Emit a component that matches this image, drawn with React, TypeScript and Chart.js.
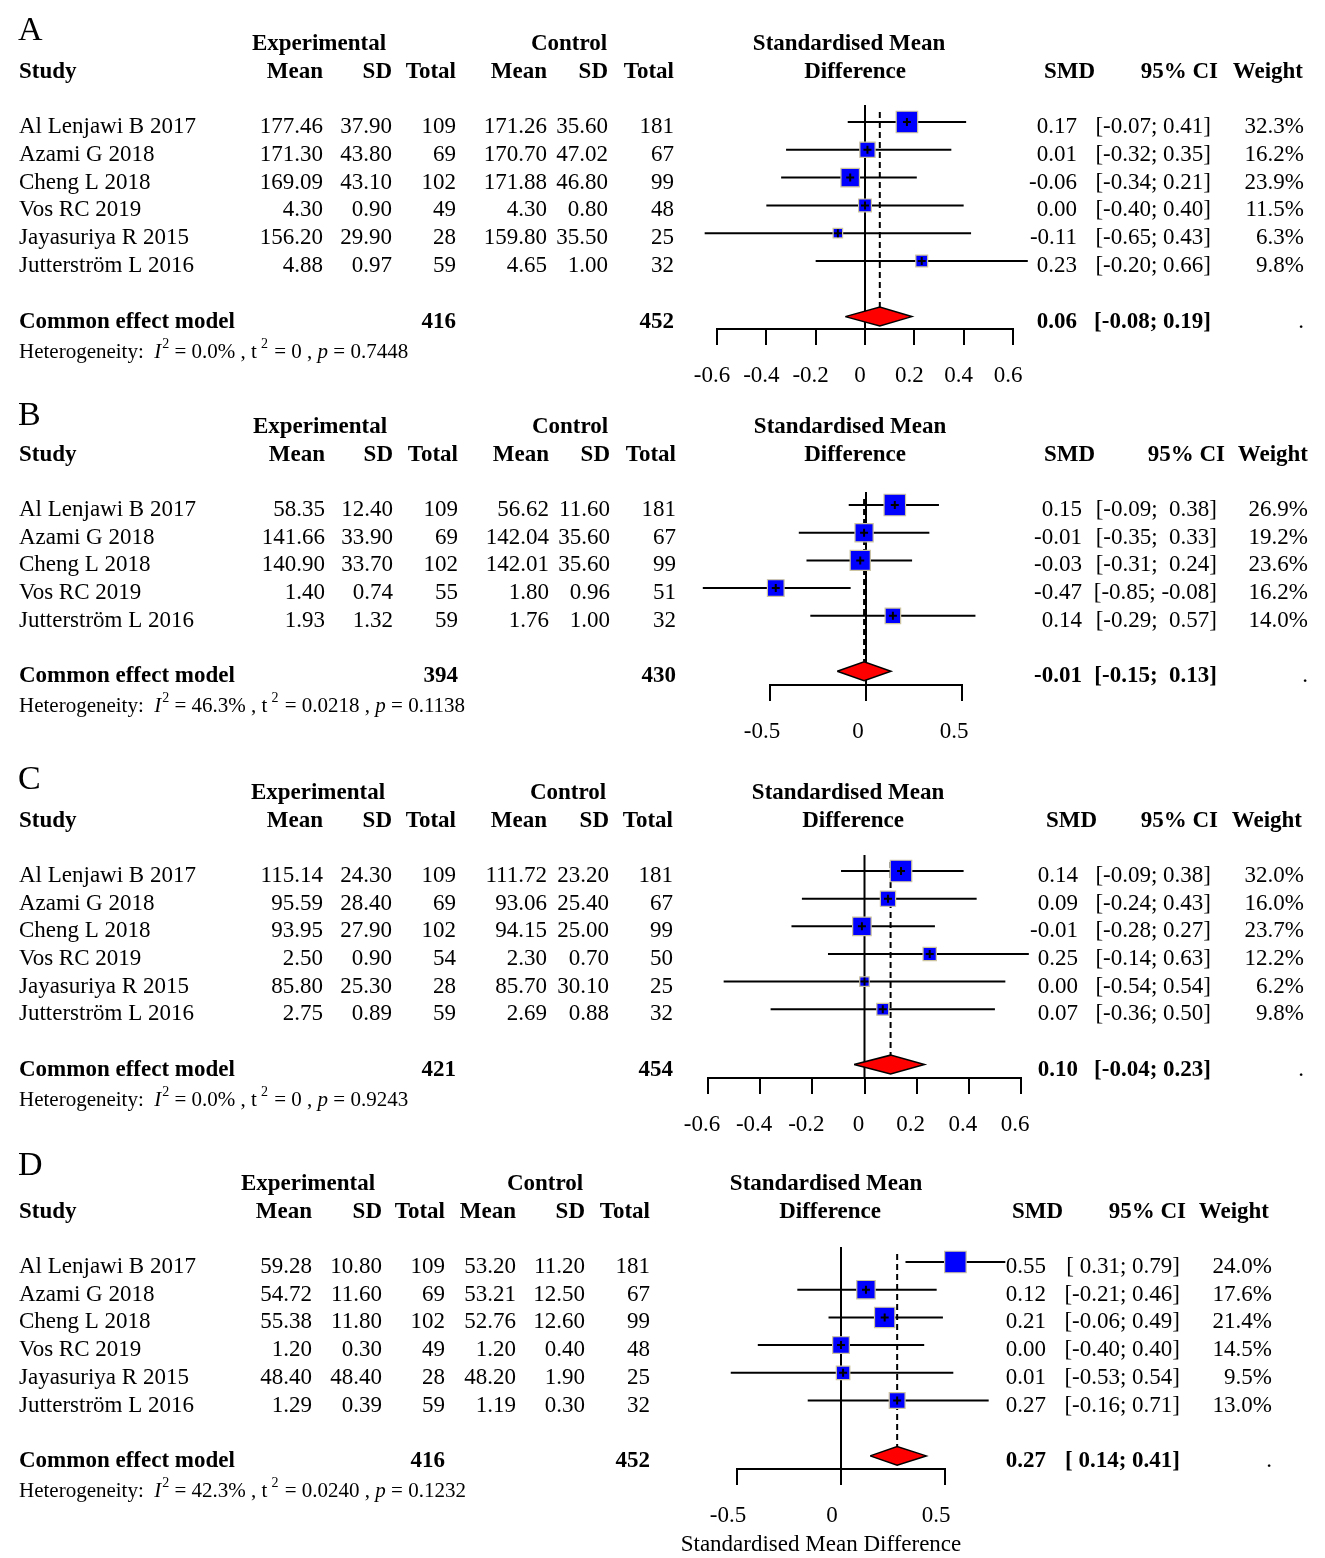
import React, { useEffect, useRef } from "react";
import { Chart, registerables } from "chart.js";

Chart.register(...registerables);

// ================= DATA =================
// ----- Panel A -----
const A_STUDIES = ["Al Lenjawi B 2017", "Azami G 2018", "Cheng L 2018", "Vos RC 2019", "Jayasuriya R 2015", "Jutterström L 2016"];
const A_EXP_MEAN = [177.46, 171.3, 169.09, 4.3, 156.2, 4.88];
const A_EXP_SD = [37.9, 43.8, 43.1, 0.9, 29.9, 0.97];
const A_EXP_N = [109, 69, 102, 49, 28, 59];
const A_CTL_MEAN = [171.26, 170.7, 171.88, 4.3, 159.8, 4.65];
const A_CTL_SD = [35.6, 47.02, 46.8, 0.8, 35.5, 1.0];
const A_CTL_N = [181, 67, 99, 48, 25, 32];
const A_SMD = [0.17, 0.01, -0.06, 0.0, -0.11, 0.23];
const A_LOWER = [-0.07, -0.32, -0.34, -0.4, -0.65, -0.2];
const A_UPPER = [0.41, 0.35, 0.21, 0.4, 0.43, 0.66];
const A_WEIGHT = [32.3, 16.2, 23.9, 11.5, 6.3, 9.8];
const A_POOLED = [0.06, -0.08, 0.19];
const A_TOTALS = [416, 452];
const A_HET = ["0.0%", "0", "0.7448"];
const A_TICKS = [-0.6, -0.4, -0.2, 0, 0.2, 0.4, 0.6];

// ----- Panel B -----
const B_STUDIES = ["Al Lenjawi B 2017", "Azami G 2018", "Cheng L 2018", "Vos RC 2019", "Jutterström L 2016"];
const B_EXP_MEAN = [58.35, 141.66, 140.9, 1.4, 1.93];
const B_EXP_SD = [12.4, 33.9, 33.7, 0.74, 1.32];
const B_EXP_N = [109, 69, 102, 55, 59];
const B_CTL_MEAN = [56.62, 142.04, 142.01, 1.8, 1.76];
const B_CTL_SD = [11.6, 35.6, 35.6, 0.96, 1.0];
const B_CTL_N = [181, 67, 99, 51, 32];
const B_SMD = [0.15, -0.01, -0.03, -0.47, 0.14];
const B_LOWER = [-0.09, -0.35, -0.31, -0.85, -0.29];
const B_UPPER = [0.38, 0.33, 0.24, -0.08, 0.57];
const B_WEIGHT = [26.9, 19.2, 23.6, 16.2, 14.0];
const B_POOLED = [-0.01, -0.15, 0.13];
const B_TOTALS = [394, 430];
const B_HET = ["46.3%", "0.0218", "0.1138"];
const B_TICKS = [-0.5, 0, 0.5];

// ----- Panel C -----
const C_STUDIES = ["Al Lenjawi B 2017", "Azami G 2018", "Cheng L 2018", "Vos RC 2019", "Jayasuriya R 2015", "Jutterström L 2016"];
const C_EXP_MEAN = [115.14, 95.59, 93.95, 2.5, 85.8, 2.75];
const C_EXP_SD = [24.3, 28.4, 27.9, 0.9, 25.3, 0.89];
const C_EXP_N = [109, 69, 102, 54, 28, 59];
const C_CTL_MEAN = [111.72, 93.06, 94.15, 2.3, 85.7, 2.69];
const C_CTL_SD = [23.2, 25.4, 25.0, 0.7, 30.1, 0.88];
const C_CTL_N = [181, 67, 99, 50, 25, 32];
const C_SMD = [0.14, 0.09, -0.01, 0.25, 0.0, 0.07];
const C_LOWER = [-0.09, -0.24, -0.28, -0.14, -0.54, -0.36];
const C_UPPER = [0.38, 0.43, 0.27, 0.63, 0.54, 0.5];
const C_WEIGHT = [32.0, 16.0, 23.7, 12.2, 6.2, 9.8];
const C_POOLED = [0.1, -0.04, 0.23];
const C_TOTALS = [421, 454];
const C_HET = ["0.0%", "0", "0.9243"];
const C_TICKS = [-0.6, -0.4, -0.2, 0, 0.2, 0.4, 0.6];

// ----- Panel D -----
const D_STUDIES = ["Al Lenjawi B 2017", "Azami G 2018", "Cheng L 2018", "Vos RC 2019", "Jayasuriya R 2015", "Jutterström L 2016"];
const D_EXP_MEAN = [59.28, 54.72, 55.38, 1.2, 48.4, 1.29];
const D_EXP_SD = [10.8, 11.6, 11.8, 0.3, 48.4, 0.39];
const D_EXP_N = [109, 69, 102, 49, 28, 59];
const D_CTL_MEAN = [53.2, 53.21, 52.76, 1.2, 48.2, 1.19];
const D_CTL_SD = [11.2, 12.5, 12.6, 0.4, 1.9, 0.3];
const D_CTL_N = [181, 67, 99, 48, 25, 32];
const D_SMD = [0.55, 0.12, 0.21, 0.0, 0.01, 0.27];
const D_LOWER = [0.31, -0.21, -0.06, -0.4, -0.53, -0.16];
const D_UPPER = [0.79, 0.46, 0.49, 0.4, 0.54, 0.71];
const D_WEIGHT = [24.0, 17.6, 21.4, 14.5, 9.5, 13.0];
const D_POOLED = [0.27, 0.14, 0.41];
const D_TOTALS = [416, 452];
const D_HET = ["42.3%", "0.0240", "0.1232"];
const D_TICKS = [-0.5, 0, 0.5];
const D_XTITLE = "Standardised Mean Difference";

// ================= TYPES / LAYOUT =================
type PanelData = {
  letter: string;
  studies: string[];
  expMean: number[]; expSd: number[]; expN: number[];
  ctlMean: number[]; ctlSd: number[]; ctlN: number[];
  smd: number[]; lower: number[]; upper: number[]; weight: number[];
  pooled: number[]; totals: number[]; het: string[]; ticks: number[];
  xTitle?: string;
};

type Layout = {
  bandTop: number; bandH: number;
  xLeft: number; xRight: number; plotTop: number; axisY: number;
  row1: number; rowStep: number; labelOffset: number; letterY: number;
  studyX: number; expMean: number; expSd: number; expN: number;
  ctlMean: number; ctlSd: number; ctlN: number;
  expHdr: number; ctlHdr: number; smdHdr1: number; smdHdr2: number;
  smd: number; smdHdr: number; ci: number; ciHdr: number; w: number; wHdr: number;
  xTitleX?: number; xTitleY?: number;
};

const PAGE_W = 1325;
const PAGE_H = 1558;
const SERIF = '"Liberation Serif", "Times New Roman", serif';
const REG = `23px ${SERIF}`;
const BOLD = `bold 23px ${SERIF}`;
const TXT_DY = 11;
const HET_DY = 41;
const MAX_SIDE = 21.5;
const DIAMOND_HALF = 0.34;

const PANELS: { d: PanelData; L: Layout }[] = [
  {
    d: {
      letter: "A", studies: A_STUDIES, expMean: A_EXP_MEAN, expSd: A_EXP_SD, expN: A_EXP_N,
      ctlMean: A_CTL_MEAN, ctlSd: A_CTL_SD, ctlN: A_CTL_N, smd: A_SMD, lower: A_LOWER, upper: A_UPPER,
      weight: A_WEIGHT, pooled: A_POOLED, totals: A_TOTALS, het: A_HET, ticks: A_TICKS,
    },
    L: {
      bandTop: 0, bandH: 392, xLeft: 717, xRight: 1013, plotTop: 105, axisY: 329, row1: 122, rowStep: 27.8,
      labelOffset: -5, letterY: 40, studyX: 19, expMean: 323, expSd: 392, expN: 456, ctlMean: 547, ctlSd: 608, ctlN: 674,
      expHdr: 319, ctlHdr: 569, smdHdr1: 849, smdHdr2: 855, smd: 1077, smdHdr: 1095, ci: 1211, ciHdr: 1218, w: 1304, wHdr: 1303,
    },
  },
  {
    d: {
      letter: "B", studies: B_STUDIES, expMean: B_EXP_MEAN, expSd: B_EXP_SD, expN: B_EXP_N,
      ctlMean: B_CTL_MEAN, ctlSd: B_CTL_SD, ctlN: B_CTL_N, smd: B_SMD, lower: B_LOWER, upper: B_UPPER,
      weight: B_WEIGHT, pooled: B_POOLED, totals: B_TOTALS, het: B_HET, ticks: B_TICKS,
    },
    L: {
      bandTop: 392, bandH: 366, xLeft: 770, xRight: 962, plotTop: 492, axisY: 685, row1: 505, rowStep: 27.7,
      labelOffset: -8, letterY: 425, studyX: 19, expMean: 325, expSd: 393, expN: 458, ctlMean: 549, ctlSd: 610, ctlN: 676,
      expHdr: 320, ctlHdr: 570, smdHdr1: 850, smdHdr2: 855, smd: 1082, smdHdr: 1095, ci: 1217, ciHdr: 1225, w: 1308, wHdr: 1308,
    },
  },
  {
    d: {
      letter: "C", studies: C_STUDIES, expMean: C_EXP_MEAN, expSd: C_EXP_SD, expN: C_EXP_N,
      ctlMean: C_CTL_MEAN, ctlSd: C_CTL_SD, ctlN: C_CTL_N, smd: C_SMD, lower: C_LOWER, upper: C_UPPER,
      weight: C_WEIGHT, pooled: C_POOLED, totals: C_TOTALS, het: C_HET, ticks: C_TICKS,
    },
    L: {
      bandTop: 758, bandH: 390, xLeft: 708, xRight: 1021, plotTop: 855, axisY: 1078, row1: 871, rowStep: 27.65,
      labelOffset: -6, letterY: 789, studyX: 19, expMean: 323, expSd: 392, expN: 456, ctlMean: 547, ctlSd: 609, ctlN: 673,
      expHdr: 318, ctlHdr: 568, smdHdr1: 848, smdHdr2: 853, smd: 1078, smdHdr: 1097, ci: 1211, ciHdr: 1218, w: 1304, wHdr: 1302,
    },
  },
  {
    d: {
      letter: "D", studies: D_STUDIES, expMean: D_EXP_MEAN, expSd: D_EXP_SD, expN: D_EXP_N,
      ctlMean: D_CTL_MEAN, ctlSd: D_CTL_SD, ctlN: D_CTL_N, smd: D_SMD, lower: D_LOWER, upper: D_UPPER,
      weight: D_WEIGHT, pooled: D_POOLED, totals: D_TOTALS, het: D_HET, ticks: D_TICKS, xTitle: D_XTITLE,
    },
    L: {
      bandTop: 1148, bandH: 410, xLeft: 737, xRight: 945, plotTop: 1247, axisY: 1469, row1: 1262, rowStep: 27.7,
      labelOffset: -9, letterY: 1175, studyX: 19, expMean: 312, expSd: 382, expN: 445, ctlMean: 516, ctlSd: 585, ctlN: 650,
      expHdr: 308, ctlHdr: 545, smdHdr1: 826, smdHdr2: 830, smd: 1046, smdHdr: 1063, ci: 1180, ciHdr: 1186, w: 1272, wHdr: 1269,
      xTitleX: 821, xTitleY: 1551,
    },
  },
];

// ================= HELPERS =================
const f2 = (v: number) => (Math.abs(v) < 1e-12 ? 0 : v).toFixed(2);

function ciStrings(d: PanelData): string[] {
  const lo = [...d.lower, d.pooled[1]].map(f2);
  const hi = [...d.upper, d.pooled[2]].map(f2);
  const lw = Math.max(...lo.map((s) => s.length));
  const hw = Math.max(...hi.map((s) => s.length));
  return lo.map((l, i) => `[${l.padStart(lw, " ")}; ${hi[i].padStart(hw, " ")}]`);
}

function yRange(L: Layout) {
  const yMin = 1 - (L.row1 - L.plotTop) / L.rowStep;
  const yMax = 1 + (L.axisY - L.row1) / L.rowStep;
  return { yMin, yMax };
}

function drawHet(ctx: CanvasRenderingContext2D, het: string[], x0: number, y: number) {
  const R = `21px ${SERIF}`;
  const IT = `italic 21px ${SERIF}`;
  const SUP = `14px ${SERIF}`;
  const parts: [string, string, number, number][] = [
    ["Heterogeneity:  ", R, 0, 0],
    ["I", IT, 0, 0],
    ["2", SUP, -10, 1],
    [" = " + het[0], R, 0, 0],
    [" , ", R, 0, 0],
    ["t", R, 0, 0],
    ["2", SUP, -10, 4],
    [" = " + het[1], R, 0, 1],
    [" , ", R, 0, 0],
    ["p", IT, 0, 0],
    [" = " + het[2], R, 0, 0],
  ];
  let x = x0;
  ctx.textAlign = "left";
  ctx.textBaseline = "alphabetic";
  for (const [t, f, dy, gap] of parts) {
    x += gap;
    ctx.font = f;
    ctx.fillText(t, x, y + dy);
    x += ctx.measureText(t).width;
  }
}

function makeTextPlugin(d: PanelData, L: Layout) {
  return {
    id: "forestText" + d.letter,
    afterDraw(chart: any) {
      const ctx: CanvasRenderingContext2D = chart.ctx;
      const ys = chart.scales.y;
      const rowY = (r: number) => ys.getPixelForValue(r);
      const put = (t: string, x: number, y: number, align: CanvasTextAlign, font: string) => {
        ctx.font = font;
        ctx.textAlign = align;
        ctx.textBaseline = "alphabetic";
        ctx.fillText(t, x, y);
      };
      ctx.save();
      ctx.fillStyle = "#000";
      put(d.letter, L.studyX - 1, L.letterY - L.bandTop, "left", `34px ${SERIF}`);

      const h1 = rowY(1) - 72;
      const h2 = rowY(1) - 44;
      put("Experimental", L.expHdr, h1, "center", BOLD);
      put("Control", L.ctlHdr, h1, "center", BOLD);
      put("Standardised Mean", L.smdHdr1, h1, "center", BOLD);
      put("Study", L.studyX, h2, "left", BOLD);
      put("Mean", L.expMean, h2, "right", BOLD);
      put("SD", L.expSd, h2, "right", BOLD);
      put("Total", L.expN, h2, "right", BOLD);
      put("Mean", L.ctlMean, h2, "right", BOLD);
      put("SD", L.ctlSd, h2, "right", BOLD);
      put("Total", L.ctlN, h2, "right", BOLD);
      put("Difference", L.smdHdr2, h2, "center", BOLD);
      put("SMD", L.smdHdr, h2, "right", BOLD);
      put("95% CI", L.ciHdr, h2, "right", BOLD);
      put("Weight", L.wHdr, h2, "right", BOLD);

      const cis = ciStrings(d);
      d.studies.forEach((s, i) => {
        const y = rowY(i + 1) + TXT_DY;
        put(s, L.studyX, y, "left", REG);
        put(d.expMean[i].toFixed(2), L.expMean, y, "right", REG);
        put(d.expSd[i].toFixed(2), L.expSd, y, "right", REG);
        put(String(d.expN[i]), L.expN, y, "right", REG);
        put(d.ctlMean[i].toFixed(2), L.ctlMean, y, "right", REG);
        put(d.ctlSd[i].toFixed(2), L.ctlSd, y, "right", REG);
        put(String(d.ctlN[i]), L.ctlN, y, "right", REG);
        put(f2(d.smd[i]), L.smd, y, "right", REG);
        put(cis[i], L.ci, y, "right", REG);
        put(d.weight[i].toFixed(1) + "%", L.w, y, "right", REG);
      });

      const S = d.studies.length + 2;
      const yS = rowY(S) + TXT_DY;
      put("Common effect model", L.studyX, yS, "left", BOLD);
      put(String(d.totals[0]), L.expN, yS, "right", BOLD);
      put(String(d.totals[1]), L.ctlN, yS, "right", BOLD);
      put(f2(d.pooled[0]), L.smd, yS, "right", BOLD);
      put(cis[cis.length - 1], L.ci, yS, "right", BOLD);
      put(".", L.w, yS, "right", REG);

      drawHet(ctx, d.het, L.studyX, rowY(S) + HET_DY);

      if (d.xTitle && L.xTitleX !== undefined && L.xTitleY !== undefined) {
        put(d.xTitle, L.xTitleX, L.xTitleY - L.bandTop, "center", REG);
      }
      ctx.restore();
    },
  };
}

function buildDatasets(d: PanelData, L: Layout) {
  const { yMin, yMax } = yRange(L);
  const rows = d.studies.map((_, i) => i + 1);
  const S = d.studies.length + 2;
  const maxW = Math.max(...d.weight);
  const ds: any[] = [];
  ds.push({
    label: "no effect",
    data: [{ x: 0, y: yMin }, { x: 0, y: yMax }],
    borderColor: "#000", borderWidth: 2, pointRadius: 0, order: 10, clip: false,
  });
  ds.push({
    label: "pooled estimate",
    data: [{ x: d.pooled[0], y: yMin + 0.25 }, { x: d.pooled[0], y: S - DIAMOND_HALF }],
    borderColor: "#000", borderWidth: 2, borderDash: [6, 4], pointRadius: 0, order: 9, clip: false,
  });
  rows.forEach((r, i) => {
    ds.push({
      label: "CI " + d.studies[i],
      data: [{ x: d.lower[i], y: r }, { x: d.upper[i], y: r }],
      borderColor: "#000", borderWidth: 2, pointRadius: 0, order: 8, clip: false,
    });
  });
  const pts = rows.map((r, i) => ({ x: d.smd[i], y: r }));
  ds.push({
    label: "SMD",
    data: pts,
    showLine: false,
    pointStyle: "rect",
    pointRadius: d.weight.map((w) => (MAX_SIDE * Math.sqrt(w / maxW)) / Math.SQRT2),
    pointBackgroundColor: "#0000ff",
    pointBorderColor: "#cdc59f",
    pointBorderWidth: 1.2,
    order: 7, clip: false,
  });
  ds.push({
    label: "estimate mark",
    data: pts,
    showLine: false,
    pointStyle: "cross",
    pointRadius: 4,
    pointBorderColor: "#000",
    pointBorderWidth: 2,
    order: 6, clip: false,
  });
  ds.push({
    label: "Common effect model",
    data: [
      { x: d.pooled[1], y: S },
      { x: d.pooled[0], y: S - DIAMOND_HALF },
      { x: d.pooled[2], y: S },
      { x: d.pooled[0], y: S + DIAMOND_HALF },
      { x: d.pooled[1], y: S },
    ],
    fill: "shape",
    backgroundColor: "#ff0000",
    borderColor: "#000",
    borderWidth: 1.5,
    pointRadius: 0,
    tension: 0,
    order: 5, clip: false,
  });
  return ds;
}

function ForestPanel({ d, L }: { d: PanelData; L: Layout }) {
  const ref = useRef<HTMLCanvasElement | null>(null);
  useEffect(() => {
    if (!ref.current) return;
    const { yMin, yMax } = yRange(L);
    const chart = new Chart(ref.current, {
      type: "line",
      data: { datasets: buildDatasets(d, L) },
      options: {
        animation: false,
        responsive: false,
        events: [],
        layout: {
          padding: { left: L.xLeft, right: PAGE_W - L.xRight, top: L.plotTop - L.bandTop, bottom: 0 },
        },
        plugins: { legend: { display: false }, tooltip: { enabled: false }, title: { display: false } },
        scales: {
          x: {
            type: "linear",
            position: "bottom",
            min: d.ticks[0],
            max: d.ticks[d.ticks.length - 1],
            afterBuildTicks: (s: any) => {
              s.ticks = d.ticks.map((v) => ({ value: v }));
            },
            afterFit: (s: any) => {
              s.height = L.bandTop + L.bandH - L.axisY;
            },
            border: { display: true, color: "#000", width: 2 },
            grid: { display: true, drawOnChartArea: false, drawTicks: true, tickLength: 16, color: "#000", lineWidth: 2 },
            ticks: {
              color: "#000",
              font: { family: SERIF, size: 23 },
              padding: 17,
              labelOffset: L.labelOffset,
              maxRotation: 0,
              autoSkip: false,
              callback: (v: any) => String(v),
            },
          },
          y: { type: "linear", display: false, reverse: true, min: yMin, max: yMax },
        },
      } as any,
      plugins: [makeTextPlugin(d, L)],
    });
    return () => chart.destroy();
  }, [d, L]);
  return (
    <canvas
      ref={ref}
      width={PAGE_W}
      height={L.bandH}
      style={{ position: "absolute", left: 0, top: L.bandTop, width: PAGE_W, height: L.bandH }}
    />
  );
}

export default function App() {
  return (
    <div style={{ position: "absolute", left: 0, top: 0, width: PAGE_W, height: PAGE_H, background: "#fff", overflow: "hidden" }}>
      {PANELS.map((p) => (
        <ForestPanel key={p.d.letter} d={p.d} L={p.L} />
      ))}
    </div>
  );
}
